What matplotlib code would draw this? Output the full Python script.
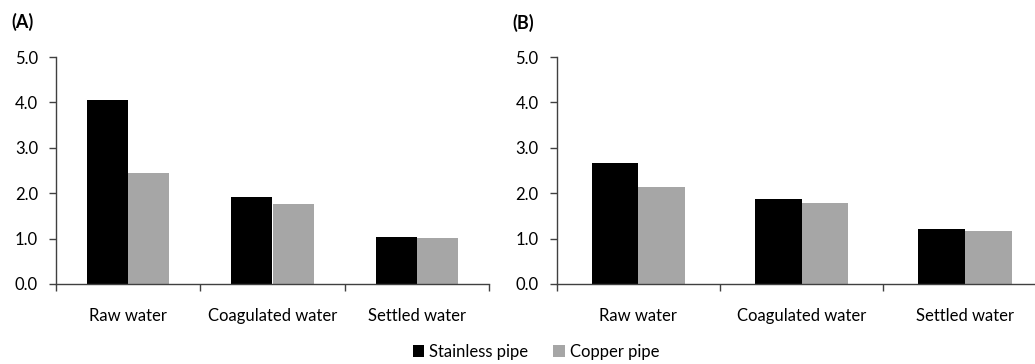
import matplotlib
matplotlib.use("Agg")
import matplotlib.pyplot as plt
import numpy as np

categories = ["Raw water", "Coagulated water", "Settled water"]
series_names = ["Stainless pipe", "Copper pipe"]
panel_a_stainless = [4.05, 1.92, 1.04]
panel_a_copper = [2.45, 1.76, 1.01]
panel_b_stainless = [2.66, 1.87, 1.21]
panel_b_copper = [2.13, 1.79, 1.16]
y_ticks = [0, 1, 2, 3, 4, 5]
y_tick_labels = ["0.0", "1.0", "2.0", "3.0", "4.0", "5.0"]
panel_labels = ["(A)", "(B)"]

colors = ["#000000", "#a6a6a6"]
spine_color = "#404040"
plt.rcParams["font.family"] = ["Lato", "DejaVu Sans"]

W, H = 1035, 364
fig = plt.figure(figsize=(W / 100, H / 100), dpi=100)

def px_axes(left, right, top, bottom):
    return fig.add_axes([left / W, 1 - bottom / H, (right - left) / W, (bottom - top) / H])

ax_a = px_axes(56, 489, 57, 284)
ax_b = px_axes(556.7, 1046.7, 57, 284)

bar_w = 0.285
x = np.arange(len(categories)) + 0.5

for ax, s_vals, c_vals, label, label_pos in [
    (ax_a, panel_a_stainless, panel_a_copper, panel_labels[0], (22.5, 22)),
    (ax_b, panel_b_stainless, panel_b_copper, panel_labels[1], (523.5, 23)),
]:
    ax.bar(x - bar_w / 2, s_vals, bar_w, color=colors[0], label=series_names[0])
    ax.bar(x + bar_w / 2, c_vals, bar_w, color=colors[1], label=series_names[1])
    ax.set_xlim(0, len(categories))
    ax.set_ylim(0, 5)
    for side in ["top", "right"]:
        ax.spines[side].set_visible(False)
    for side in ["left", "bottom"]:
        ax.spines[side].set_color(spine_color)
        ax.spines[side].set_linewidth(1.0)
    ax.set_yticks(y_ticks)
    ax.set_yticklabels(y_tick_labels)
    ax.set_xticks(np.arange(len(categories) + 1))
    ax.set_xticklabels([])
    ax.set_xticks(x, minor=True)
    ax.set_xticklabels(categories, minor=True)
    ax.tick_params(axis="x", which="major", direction="out", length=5, width=1, color=spine_color)
    ax.tick_params(axis="x", which="minor", length=0, pad=17, labelsize=12)
    ax.tick_params(axis="y", direction="out", length=5, width=1, color=spine_color, labelsize=12, pad=8)
    fig.text(label_pos[0] / W, 1 - label_pos[1] / H, label, fontsize=13, fontweight="bold",
             ha="center", va="center")

handles, labels = ax_a.get_legend_handles_labels()
fig.legend(handles, labels, loc="center", bbox_to_anchor=(536 / W, 1 - 352 / H),
           ncol=2, frameon=False, fontsize=12, handlelength=0.7, handleheight=0.7,
           handletextpad=0.3, columnspacing=1.5)

fig.savefig("out.png", dpi=100)
